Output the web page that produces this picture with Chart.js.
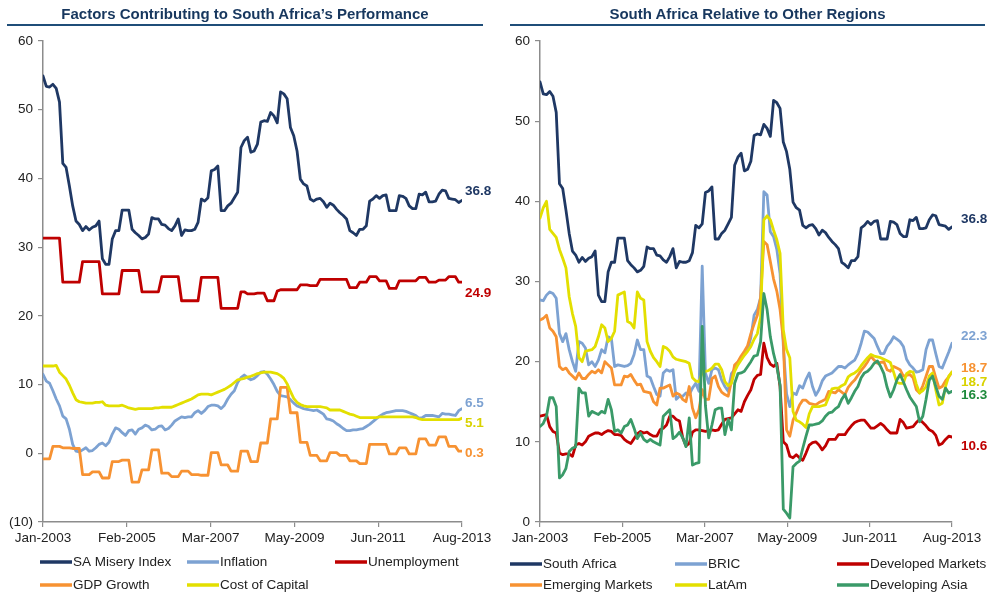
<!DOCTYPE html>
<html lang="en">

<head>
    <meta charset="UTF-8">
    <title>South Africa</title>
    <style>
        body {
            margin: 0;
            background: #fff;
            width: 990px;
            height: 595px;
            position: relative;
            overflow: hidden;
            font-family: "Liberation Sans", Arial, sans-serif;
        }

        canvas {
            position: absolute;
            top: 0;
        }

        /* заголовок с линией снизу */
        .title {
            position: absolute;
            top: 4px;
            height: 20px;
            line-height: 20px;
            font-size: 15px;
            font-weight: bold;
            color: #17375E;
            text-align: center;
            border-bottom: 2px solid #1F4E79;
        }
    </style>
</head>

<body>

    <canvas id="leftChart" width="495" height="595" style="left:0"></canvas>
    <canvas id="rightChart" width="495" height="595" style="left:495px"></canvas>

    <div class="title" style="left:7px;width:476px">Factors Contributing to South Africa’s Performance</div>
    <div class="title" style="left:510px;width:475px">South Africa Relative to Other Regions</div>

    <script src="https://cdn.jsdelivr.net/npm/chart.js"></script>
    <script>
        // подписи по оси X (Jan-2003 ... Aug-2013, помесячно, 128 точек)
        const tickLabels = ['Jan-2003', 'Feb-2005', 'Mar-2007', 'May-2009', 'Jun-2011', 'Aug-2013'];

        // данные, читаем с картинки
        const saMisery = [
            54.9, 53.4, 53.3, 53.7, 53.1, 51.1, 42.2, 41.6, 38.9, 36.0,
            33.8, 33.3, 32.4, 33.0, 32.5, 32.9, 33.1, 33.8, 28.3, 27.5,
            27.5, 31.2, 32.4, 32.4, 35.4, 35.4, 35.4, 32.6, 32.1, 31.7,
            31.2, 31.4, 31.9, 34.3, 34.1, 34.1, 33.3, 33.2, 32.7, 32.4,
            33.1, 34.1, 31.7, 32.5, 32.4, 32.4, 32.6, 33.6, 37.0, 36.7,
            37.2, 41.1, 41.3, 41.8, 35.3, 35.3, 36.0, 36.4, 37.2, 38.0,
            44.5, 45.5, 46.0, 43.8, 44.0, 45.0, 48.2, 48.4, 48.3, 49.6,
            49.1, 48.1, 52.6, 52.3, 51.6, 47.4, 46.2, 44.0, 39.9, 39.2,
            38.9, 37.0, 36.7, 37.0, 37.1, 36.6, 35.8, 36.4, 36.1, 35.5,
            35.0, 34.6, 34.1, 32.4, 32.1, 31.7, 32.6, 32.6, 33.1, 36.7,
            37.0, 37.5, 37.1, 37.5, 37.6, 35.3, 35.3, 35.3, 37.5, 37.4,
            37.1, 36.0, 35.6, 35.6, 37.7, 37.6, 38.0, 36.6, 36.6, 36.7,
            37.7, 38.3, 38.2, 37.1, 37.0, 36.9, 36.5, 36.8
        ];
        const inflation = [
            11.5, 10.5, 10.2, 9.1, 7.9, 6.9, 5.4, 5.0, 3.5, 1.3,
            0.3, 0.2, 0.5, 0.8, 0.3, 0.4, 0.8, 1.3, 1.5, 1.1,
            1.6, 2.8, 3.7, 3.5, 3.0, 2.6, 3.3, 3.4, 2.8, 3.5,
            3.7, 4.1, 3.9, 3.4, 3.5, 3.9, 4.0, 3.4, 3.6, 4.1,
            4.7, 5.0, 5.3, 5.2, 5.3, 5.3, 5.9, 6.2, 5.8, 6.2,
            6.8, 7.0, 7.0, 6.9, 6.5, 7.0, 7.9, 8.6, 9.1, 10.3,
            11.0, 11.4, 11.0, 10.7, 10.9, 11.3, 11.8, 11.9, 11.5, 10.8,
            10.0, 9.0, 8.4, 8.3, 8.2, 7.8, 7.3, 6.9, 6.7, 6.5,
            6.4, 6.3, 6.2, 6.3, 6.0, 5.7, 5.0, 4.9, 4.7, 4.3,
            4.0, 3.6, 3.3, 3.3, 3.4, 3.4, 3.5, 3.6, 3.9, 4.2,
            4.6, 5.0, 5.4, 5.7, 5.9, 6.0, 6.1, 6.2, 6.2, 6.2,
            6.1, 5.9, 5.7, 5.5, 5.1, 5.2, 5.5, 5.5, 5.5, 5.4,
            5.3, 5.8, 5.7, 5.7, 5.6, 5.5, 6.2, 6.5
        ];
        const unemployment = [
            31.3, 31.3, 31.3, 31.3, 31.3, 31.3, 24.9, 24.9, 24.9, 24.9,
            24.9, 24.9, 27.9, 27.9, 27.9, 27.9, 27.9, 27.9, 23.2, 23.2,
            23.2, 23.2, 23.2, 23.2, 26.6, 26.6, 26.6, 26.6, 26.6, 26.6,
            23.5, 23.5, 23.5, 23.5, 23.5, 23.5, 25.7, 25.7, 25.7, 25.7,
            25.7, 25.7, 22.2, 22.2, 22.2, 22.2, 22.2, 22.2, 25.6, 25.6,
            25.6, 25.6, 25.6, 25.6, 21.1, 21.1, 21.1, 21.1, 21.1, 21.1,
            23.5, 23.5, 23.2, 23.2, 23.2, 23.3, 23.3, 23.3, 22.2, 22.2,
            22.2, 23.6, 23.8, 23.8, 23.8, 23.8, 23.8, 23.8, 24.5, 24.5,
            24.5, 24.4, 24.4, 24.4, 25.3, 25.3, 25.3, 25.3, 25.3, 25.3,
            25.3, 25.3, 25.3, 24.1, 24.1, 24.1, 24.9, 24.9, 24.9, 25.7,
            25.7, 25.7, 25.1, 25.1, 25.1, 24.0, 24.0, 24.0, 25.1, 25.1,
            25.1, 25.1, 25.1, 25.1, 25.6, 25.6, 25.6, 24.9, 24.9, 24.9,
            25.2, 25.2, 25.2, 25.7, 25.7, 25.7, 24.9, 24.9
        ];
        const gdpGrowth = [
            -0.8, -0.8, -0.8, 1.0, 1.0, 1.0, 0.8, 0.8, 0.8, 0.7,
            0.7, 0.7, -3.1, -3.1, -3.1, -2.7, -2.7, -2.7, -3.6, -3.6,
            -3.6, -1.2, -1.2, -1.2, -1.0, -1.0, -1.0, -4.2, -4.2, -4.2,
            -2.4, -2.4, -2.4, 0.5, 0.5, 0.5, -2.9, -2.9, -2.9, -3.4,
            -3.4, -3.4, -2.6, -2.6, -2.6, -3.1, -3.1, -3.1, -3.2, -3.2,
            -3.2, 0.1, 0.1, 0.1, -1.7, -1.7, -1.7, -2.6, -2.6, -2.6,
            0.3, 0.3, 0.3, -1.2, -1.2, -1.2, 1.5, 1.5, 1.5, 5.0,
            5.0, 5.0, 9.6, 9.6, 9.6, 5.9, 5.9, 5.9, 1.6, 1.6,
            1.6, -0.3, -0.3, -0.3, -1.1, -1.1, -1.1, 0.1, 0.1, 0.1,
            -0.3, -0.3, -0.3, -1.1, -1.1, -1.1, -1.5, -1.5, -1.5, 1.3,
            1.3, 1.3, 1.3, 1.3, 1.3, -0.1, -0.1, -0.1, 0.8, 0.8,
            0.8, -0.1, -0.1, -0.1, 2.1, 2.1, 2.1, 1.2, 1.2, 1.2,
            2.4, 2.4, 2.4, 1.0, 1.0, 1.0, 0.3, 0.3
        ];
        const costOfCapital = [
            12.7, 12.7, 12.7, 12.7, 12.8, 11.8, 11.3, 10.8, 9.9, 8.8,
            7.8, 7.5, 7.4, 7.3, 7.3, 7.3, 7.4, 7.4, 7.5, 7.0,
            6.9, 6.9, 6.9, 6.9, 7.0, 6.8, 6.6, 6.5, 6.4, 6.5,
            6.5, 6.5, 6.5, 6.5, 6.6, 6.6, 6.7, 6.7, 6.7, 6.7,
            6.9, 7.1, 7.3, 7.5, 7.7, 7.9, 8.2, 8.5, 8.6, 8.6,
            8.6, 8.5, 8.7, 8.9, 9.1, 9.3, 9.6, 9.9, 10.3, 10.7,
            10.8, 10.9, 11.1, 11.2, 11.4, 11.6, 11.7, 11.8, 11.8, 11.8,
            11.7, 11.6, 11.3, 10.9, 10.1, 9.0, 8.0, 7.4, 7.1, 6.9,
            6.8, 6.8, 6.8, 6.8, 6.8, 6.7, 6.6, 6.3, 6.3, 6.3,
            6.3, 6.1, 5.9, 5.7, 5.6, 5.4, 5.2, 5.2, 5.2, 5.2,
            5.2, 5.2, 5.3, 5.3, 5.3, 5.3, 5.3, 5.3, 5.3, 5.3,
            5.3, 5.3, 5.3, 5.2, 5.0, 4.9, 4.9, 4.9, 4.9, 4.9,
            4.9, 4.9, 4.9, 4.9, 4.9, 4.9, 4.9, 5.1
        ];
        const bric = [
            27.7, 27.6, 28.3, 28.7, 28.5, 27.9, 23.5, 22.5, 23.5, 21.5,
            20.0, 18.8, 22.5, 22.3, 21.7, 19.6, 20.0, 19.4, 20.2, 21.5,
            21.1, 23.1, 22.9, 19.4, 19.6, 19.5, 19.4, 19.5, 19.8, 20.9,
            22.7, 21.5, 21.5, 18.2, 18.0, 16.9, 15.9, 15.7, 18.6, 19.0,
            18.8, 19.0, 15.3, 15.7, 15.7, 16.1, 15.9, 16.7, 17.3, 16.3,
            31.9, 18.6, 17.3, 19.0, 19.2, 19.0, 17.7, 16.9, 16.3, 18.5,
            19.0, 19.8, 20.4, 21.0, 21.5, 23.0, 25.8, 26.5, 28.0, 41.2,
            40.8, 36.2, 35.6, 34.0, 31.0, 22.0, 16.0, 14.4, 16.1, 15.9,
            17.0, 16.7, 17.8, 18.6, 16.9, 15.8, 16.5, 17.6, 18.2, 18.4,
            18.6, 19.0, 19.4, 19.4, 19.2, 19.6, 19.9, 20.2, 21.0, 22.3,
            23.8, 23.7, 23.3, 22.9, 21.9, 21.0, 21.0, 21.9, 22.4, 23.1,
            22.8, 22.5, 21.9, 20.3, 19.6, 19.2, 18.7, 18.8, 19.0, 21.5,
            22.7, 22.7, 21.0, 19.4, 19.2, 20.2, 21.2, 22.3
        ];
        const developed = [
            13.2, 13.3, 13.4, 11.9, 11.3, 11.1, 8.6, 8.4, 8.5, 8.5,
            8.2, 9.6, 9.8, 9.6, 10.0, 10.7, 10.9, 11.1, 11.1, 10.9,
            11.2, 11.4, 11.3, 10.9, 10.9, 10.8, 10.3, 10.0, 9.8, 10.4,
            11.0, 11.3, 11.1, 11.2, 10.9, 10.7, 10.7, 11.5, 11.7, 12.1,
            13.2, 13.2, 12.8, 12.6, 10.5, 9.5, 9.8, 11.2, 11.5, 11.5,
            11.4, 11.3, 11.4, 11.5, 11.4, 11.5, 12.2, 12.8, 12.9, 13.0,
            13.5, 14.0, 13.8, 15.0, 15.8, 16.5, 17.8, 18.3, 18.4, 22.3,
            20.5, 19.7, 19.4, 19.8, 16.9, 10.0, 9.6, 8.2, 8.0, 8.4,
            8.0, 7.7, 8.6, 9.6, 9.9, 10.0, 9.6, 9.0, 9.5, 10.3,
            10.3, 10.3, 10.9, 10.9, 10.9, 11.5, 12.0, 12.4, 12.6, 12.7,
            12.7, 12.2, 11.7, 11.7, 12.0, 12.3, 12.0, 11.5, 11.1, 11.1,
            11.1, 12.8, 12.4, 11.7, 11.8, 11.9, 12.4, 12.8, 12.4, 12.0,
            11.5, 11.3, 10.8, 9.6, 9.8, 10.3, 10.7, 10.6
        ];
        const emerging = [
            25.2, 25.4, 25.8, 24.2, 23.8, 23.1, 19.4, 19.0, 19.2, 18.6,
            18.2, 17.8, 18.6, 17.9, 17.9, 18.4, 18.8, 18.6, 19.0, 18.6,
            20.0, 19.6, 19.2, 17.1, 17.1, 17.1, 18.2, 18.1, 18.4, 17.7,
            17.1, 17.2, 16.3, 16.2, 16.1, 15.0, 14.6, 16.7, 16.7, 16.9,
            17.1, 15.7, 16.1, 15.9, 15.3, 15.0, 16.9, 14.2, 13.0, 14.0,
            16.5, 15.3, 15.3, 17.9, 18.2, 16.9, 16.2, 15.9, 15.7, 17.5,
            19.6, 20.0, 20.7, 21.3, 22.0, 23.5, 24.7, 25.8, 28.0, 35.0,
            34.6, 32.5, 30.3, 28.8, 26.5, 22.7, 11.5, 10.7, 12.7, 13.6,
            14.6, 15.2, 15.2, 14.8, 14.7, 14.6, 14.9, 15.1, 15.3, 16.3,
            16.2, 16.1, 16.5, 16.2, 15.9, 16.8, 17.3, 17.7, 18.3, 18.9,
            19.4, 20.0, 20.7, 20.2, 19.8, 19.9, 20.0, 19.0, 18.8, 19.4,
            19.2, 19.0, 18.2, 18.3, 18.4, 18.0, 16.5, 16.1, 17.0, 18.2,
            19.4, 19.4, 18.0, 16.7, 16.9, 17.6, 18.1, 18.7
        ];
        const latAm = [
            37.9, 39.2, 40.0, 36.5, 36.0, 35.5, 34.0, 32.9, 31.7, 28.1,
            26.0, 24.4, 20.5, 20.0, 21.3, 21.4, 21.5, 21.9, 23.1, 24.6,
            24.2, 22.5, 22.9, 23.8, 28.3, 28.5, 28.7, 25.0, 24.8, 24.2,
            28.7, 27.9, 27.7, 22.5, 21.3, 20.5, 20.0, 19.4, 21.9, 21.7,
            21.3, 20.6, 20.3, 20.2, 20.1, 20.0, 19.8, 18.0, 17.6, 17.5,
            18.6, 18.8, 18.9, 19.2, 19.7, 19.7, 19.0, 17.5, 17.0, 17.3,
            18.8, 19.6, 20.2, 20.8, 21.3, 21.9, 22.8, 23.5, 25.5, 37.7,
            38.2, 37.7, 36.4, 35.2, 33.5, 24.0, 21.5, 20.5, 13.8, 12.7,
            12.5, 12.2, 11.8, 13.5, 14.4, 14.4, 14.4, 14.5, 14.6, 15.6,
            16.6, 16.7, 16.7, 17.0, 17.2, 18.1, 18.4, 18.6, 18.9, 19.5,
            20.0, 20.5, 20.9, 20.7, 20.6, 20.5, 20.3, 20.1, 19.9, 18.7,
            17.4, 17.3, 17.3, 18.5, 18.8, 18.7, 17.2, 16.1, 16.4, 16.9,
            18.2, 18.6, 16.5, 14.6, 14.8, 16.9, 18.2, 18.7
        ];
        const devAsia = [
            11.9, 12.3, 13.2, 15.5, 15.5, 14.4, 5.5, 5.9, 6.7, 8.8,
            9.2, 9.4, 16.7, 16.1, 16.1, 13.2, 13.8, 13.6, 13.4, 13.8,
            13.6, 15.3, 14.0, 11.3, 11.5, 11.1, 11.9, 12.1, 12.8, 11.7,
            10.4, 11.1, 10.3, 10.0, 10.3, 10.0, 9.8, 9.6, 13.2, 13.6,
            14.0, 10.4, 10.7, 11.2, 10.5, 9.4, 13.0, 7.1, 7.3, 7.4,
            24.4, 14.5, 10.5, 12.1, 14.0, 14.2, 14.2, 10.9, 12.8, 11.5,
            17.3, 18.5, 18.6, 18.8, 19.4, 20.0, 20.7, 20.8, 22.5, 28.5,
            26.5, 23.1, 21.0, 19.4, 17.1, 1.6, 1.1, 0.5, 6.9, 7.3,
            7.6, 9.2, 10.7, 12.1, 12.1, 12.2, 12.3, 12.6, 13.2, 13.6,
            13.7, 14.1, 14.4, 15.3, 15.9, 14.8, 15.5, 16.3, 16.9, 18.0,
            18.6, 18.8, 19.2, 19.8, 20.1, 19.4, 18.5, 16.8, 15.6, 16.5,
            17.7, 18.4, 17.5, 16.5, 15.6, 15.0, 14.4, 12.5, 13.2, 15.3,
            17.7, 18.2, 16.9, 15.7, 15.3, 16.7, 16.1, 16.3
        ];

        // цвета
        const NAVY = '#1F3864', LBLUE = '#7DA2D2', RED = '#BF0000',
            ORANGE = '#F79232', YELLOW = '#E3DF00', GREEN = '#3A9A68';
        const AXIS = '#8C8C8C', TEXT = '#222222';
        const FONT = '"Liberation Sans", Arial, sans-serif';

        Chart.defaults.font.family = FONT;
        Chart.defaults.font.size = 13.5;
        Chart.defaults.color = TEXT;

        function pts(values) {
            return values.map((v, i) => ({ x: i, y: v }));
        }

        // подписи последних значений справа от линии
        const endLabels = {
            id: 'endLabels',
            afterDatasetsDraw(chart, args, opts) {
                const ctx = chart.ctx;
                ctx.save();
                ctx.font = 'bold 13.5px ' + FONT;
                ctx.textBaseline = 'middle';
                chart.data.datasets.forEach((ds, i) => {
                    const meta = chart.getDatasetMeta(i);
                    const last = meta.data[meta.data.length - 1];
                    const v = ds.data[ds.data.length - 1].y;
                    ctx.fillStyle = ds.labelColor || ds.borderColor;
                    ctx.fillText(v.toFixed(1), chart.chartArea.right + opts.dx, last.y + (ds.nudge || 0));
                });
                ctx.restore();
            }
        };

        // легенда в три колонки
        const colLegend = {
            id: 'colLegend',
            afterDraw(chart, args, opts) {
                const ctx = chart.ctx;
                ctx.save();
                ctx.font = '13.5px ' + FONT;
                ctx.textBaseline = 'middle';
                chart.data.datasets.forEach((ds, i) => {
                    const x = opts.cols[i % 3];
                    const y = opts.rows[Math.floor(i / 3)];
                    ctx.strokeStyle = ds.borderColor;
                    ctx.lineWidth = 3.5;
                    ctx.beginPath();
                    ctx.moveTo(x, y);
                    ctx.lineTo(x + 32, y);
                    ctx.stroke();
                    ctx.fillStyle = TEXT;
                    ctx.fillText(ds.label, x + 33, y);
                });
                ctx.restore();
            }
        };

        function makeChart(id, sets, cfg) {
            const n = sets.length;
            sets.forEach((s, i) => {
                s.order = n - i; // последние серии поверх
                s.fill = false;
            });
            return new Chart(document.getElementById(id), {
                type: 'line',
                data: { datasets: sets },
                options: {
                    responsive: false,
                    animation: false,
                    layout: { padding: { left: 0, right: cfg.padRight, top: 41, bottom: 48 } },
                    elements: {
                        point: { radius: 0 },
                        line: { tension: 0, borderWidth: 2.8, borderJoinStyle: 'round', borderCapStyle: 'round' }
                    },
                    plugins: {
                        legend: { display: false },
                        tooltip: { enabled: false },
                        endLabels: { dx: cfg.labelDx },
                        colLegend: { cols: cfg.cols, rows: cfg.rows }
                    },
                    scales: {
                        x: {
                            type: 'linear',
                            min: 0,
                            max: 127,
                            afterBuildTicks: s => { s.ticks = tickLabels.map((t, i) => ({ value: i * 127 / 5 })); },
                            afterFit: s => { s.height = 25; },
                            ticks: { callback: (v, i) => tickLabels[i], padding: 3, maxRotation: 0, autoSkip: false, color: TEXT },
                            grid: { drawOnChartArea: false, tickLength: 5, color: AXIS, lineWidth: 1.2 },
                            border: { color: AXIS, width: 1.5 }
                        },
                        y: {
                            min: cfg.yMin,
                            max: 60,
                            afterFit: s => { s.width = cfg.yWidth; },
                            ticks: {
                                stepSize: 10,
                                padding: 5,
                                color: TEXT,
                                callback: v => v < 0 ? '(' + (-v) + ')' : v
                            },
                            grid: { drawOnChartArea: false, tickLength: 5, color: AXIS, lineWidth: 1.2 },
                            border: { color: AXIS, width: 1.5 }
                        }
                    }
                },
                plugins: [endLabels, colLegend]
            });
        }

        // левая диаграмма
        const leftChart = makeChart('leftChart', [
            { label: 'SA Misery Index', data: pts(saMisery), borderColor: NAVY, nudge: -9 },
            { label: 'Inflation', data: pts(inflation), borderColor: LBLUE, nudge: -5 },
            { label: 'Unemployment', data: pts(unemployment), borderColor: RED, nudge: 11 },
            { label: 'GDP Growth', data: pts(gdpGrowth), borderColor: ORANGE, nudge: 2 },
            { label: 'Cost of Capital', data: pts(costOfCapital), borderColor: YELLOW, labelColor: '#D9D200', nudge: 5 }
        ], { padRight: 33, labelDx: 3, yMin: -10, yWidth: 43, cols: [40, 187, 335], rows: [562, 585] });

        // правая диаграмма
        const rightChart = makeChart('rightChart', [
            { label: 'South Africa', data: pts(saMisery), borderColor: NAVY, nudge: -8 },
            { label: 'BRIC', data: pts(bric), borderColor: LBLUE, nudge: -7 },
            { label: 'Developed Markets', data: pts(developed), borderColor: RED, nudge: 9 },
            { label: 'Emerging Markets', data: pts(emerging), borderColor: ORANGE, nudge: -4 },
            { label: 'LatAm', data: pts(latAm), borderColor: YELLOW, labelColor: '#D9D200', nudge: 10 },
            { label: 'Developing Asia', data: pts(devAsia), borderColor: GREEN, labelColor: '#1E8A3C', nudge: 4 }
        ], { padRight: 38, labelDx: 9, yMin: 0, yWidth: 45, cols: [15, 180, 342], rows: [564, 585] });
    </script>

</body>

</html>
